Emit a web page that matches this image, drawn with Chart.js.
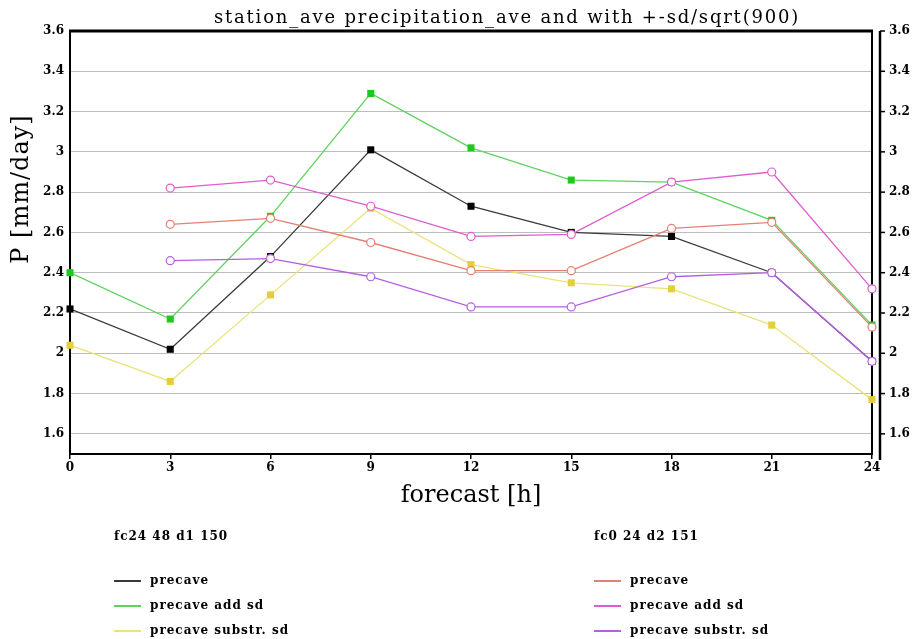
<!DOCTYPE html>
<html>
<head>
<meta charset="utf-8">
<script src="https://cdn.jsdelivr.net/npm/chart.js@4.4.1/dist/chart.umd.min.js"></script>
<style>
    html, body { margin: 0; padding: 0; background: #fff; }
</style>
</head>
<body>
<canvas id="chart" width="914" height="639"></canvas>
<script>
let hours = [0, 3, 6, 9, 12, 15, 18, 21, 24];
let yTicks = [1.6, 1.8, 2, 2.2, 2.4, 2.6, 2.8, 3, 3.2, 3.4, 3.6];

// fc24 48 d1 150
let fc24Ave = [2.22, 2.02, 2.48, 3.01, 2.73, 2.60, 2.58, 2.40, 1.96];
let fc24Add = [2.40, 2.17, 2.68, 3.29, 3.02, 2.86, 2.85, 2.66, 2.14];
let fc24Sub = [2.04, 1.86, 2.29, 2.72, 2.44, 2.35, 2.32, 2.14, 1.77];

// fc0 24 d2 151
let fc0Ave = [null, 2.64, 2.67, 2.55, 2.41, 2.41, 2.62, 2.65, 2.13];
let fc0Add = [null, 2.82, 2.86, 2.73, 2.58, 2.59, 2.85, 2.90, 2.32];
let fc0Sub = [null, 2.46, 2.47, 2.38, 2.23, 2.23, 2.38, 2.40, 1.96];

let groupTitles = ['fc24 48 d1 150', 'fc0 24 d2 151'];
let seriesNames = ['precave', 'precave add sd', 'precave substr. sd'];
let chartTitle = 'station_ave precipitation_ave and with +-sd/sqrt(900)';

const serif = "'DejaVu Serif', serif";

function squareSet(label, data, line, mark, group, row) {
    return {
        label: label, data: data, group: group, row: row, order: 1,
        borderColor: line, backgroundColor: mark,
        pointBackgroundColor: mark, pointBorderColor: mark,
        pointStyle: 'rect', pointRadius: 5, pointBorderWidth: 0,
        borderWidth: 1.3, tension: 0
    };
}

function circleSet(label, data, color, group, row) {
    return {
        label: label, data: data, group: group, row: row, order: 0,
        borderColor: color, backgroundColor: color,
        pointBackgroundColor: '#fff', pointBorderColor: color,
        pointStyle: 'circle', pointRadius: 4, pointBorderWidth: 1.2,
        borderWidth: 1.3, tension: 0
    };
}

const decorations = {
    id: 'decorations',
    beforeDatasetsDraw(chart) {
        const ctx = chart.ctx;
        const a = chart.chartArea;
        ctx.save();
        ctx.strokeStyle = '#000';
        ctx.lineWidth = 2;
        ctx.strokeRect(a.left, a.top, a.right - a.left, a.bottom - a.top);
        ctx.lineWidth = 3;
        ctx.beginPath();
        ctx.moveTo(a.left - 1, a.top);
        ctx.lineTo(a.right + 1, a.top);
        ctx.stroke();
        ctx.restore();
    },
    afterDraw(chart) {
        const ctx = chart.ctx;
        const a = chart.chartArea;
        const r = chart.scales.y2;
        ctx.save();

        // right axis line with outward ticks
        const ax = a.right + 8;
        ctx.strokeStyle = '#000';
        ctx.lineWidth = 2.5;
        ctx.beginPath();
        ctx.moveTo(ax, a.top);
        ctx.lineTo(ax, a.bottom + 6);
        ctx.stroke();
        ctx.lineWidth = 1.5;
        r.ticks.forEach(t => {
            const y = r.getPixelForValue(t.value);
            ctx.beginPath();
            ctx.moveTo(ax, y);
            ctx.lineTo(ax + 5, y);
            ctx.stroke();
        });

        // title
        ctx.fillStyle = '#000';
        ctx.font = '18px ' + serif;
        ctx.letterSpacing = '1.8px';
        ctx.textAlign = 'center';
        ctx.textBaseline = 'middle';
        ctx.fillText(chartTitle, 507, 18);

        // y axis title
        ctx.save();
        ctx.translate(22, 189);
        ctx.rotate(-Math.PI / 2);
        ctx.font = '24px ' + serif;
        ctx.letterSpacing = '1px';
        ctx.fillText('P [mm/day]', 0, 0);
        ctx.restore();

        // legend in two groups
        const gx = [114, 594];
        const ry = [581, 606, 631];
        ctx.font = 'bold 12px ' + serif;
        ctx.letterSpacing = '1px';
        ctx.textAlign = 'left';
        groupTitles.forEach((g, i) => ctx.fillText(g, gx[i], 537));
        chart.data.datasets.forEach(ds => {
            const x = gx[ds.group];
            const y = ry[ds.row];
            ctx.strokeStyle = ds.borderColor;
            ctx.lineWidth = 2;
            ctx.beginPath();
            ctx.moveTo(x, y);
            ctx.lineTo(x + 27, y);
            ctx.stroke();
            ctx.fillStyle = '#000';
            ctx.fillText(ds.label, x + 36, y);
        });
        ctx.restore();
    }
};

const tickFont = { family: serif, size: 12, weight: 'bold' };
const fmt = v => String(Math.round(v * 10) / 10);

const ctx = document.getElementById('chart');

new Chart(ctx, {
    type: 'line',
    data: {
        labels: hours,
        datasets: [
            squareSet(seriesNames[0], fc24Ave, '#3a3a3a', '#000000', 0, 0),
            squareSet(seriesNames[1], fc24Add, '#5fd35f', '#1ec81e', 0, 1),
            squareSet(seriesNames[2], fc24Sub, '#ebe27a', '#e3cf3a', 0, 2),
            circleSet(seriesNames[0], fc0Ave, '#e48072', 1, 0),
            circleSet(seriesNames[1], fc0Add, '#df5ccf', 1, 1),
            circleSet(seriesNames[2], fc0Sub, '#b65fe0', 1, 2)
        ]
    },
    options: {
        responsive: false,
        animation: false,
        devicePixelRatio: 1,
        layout: { padding: { top: 31, left: 0, right: 0, bottom: 125 } },
        plugins: {
            legend: { display: false },
            tooltip: { enabled: false }
        },
        scales: {
            x: {
                offset: false,
                grid: { drawOnChartArea: false, drawTicks: true, tickLength: 5, color: '#000', lineWidth: 1.5 },
                border: { display: false },
                ticks: { font: tickFont, color: '#000', padding: 2, maxRotation: 0, autoSkip: false },
                title: {
                    display: true, text: 'forecast [h]', color: '#000',
                    font: { family: serif, size: 24 },
                    padding: { top: 0, bottom: 4 }
                },
                afterFit: s => { s.height = 60; }
            },
            y: {
                position: 'left',
                min: 1.5, max: 3.6,
                afterBuildTicks: s => { s.ticks = yTicks.map(v => ({ value: v })); },
                grid: { color: '#bdbdbd', lineWidth: 1, drawTicks: false },
                border: { display: false },
                ticks: { font: tickFont, color: '#000', padding: 6, callback: fmt },
                afterFit: s => { s.width = 70; }
            },
            y2: {
                position: 'right',
                min: 1.5, max: 3.6,
                afterBuildTicks: s => { s.ticks = yTicks.map(v => ({ value: v })); },
                grid: { display: false, drawTicks: false },
                border: { display: false },
                ticks: { font: tickFont, color: '#000', padding: 17, callback: fmt },
                afterFit: s => { s.width = 42; }
            }
        }
    },
    plugins: [decorations]
});
</script>
</body>
</html>
